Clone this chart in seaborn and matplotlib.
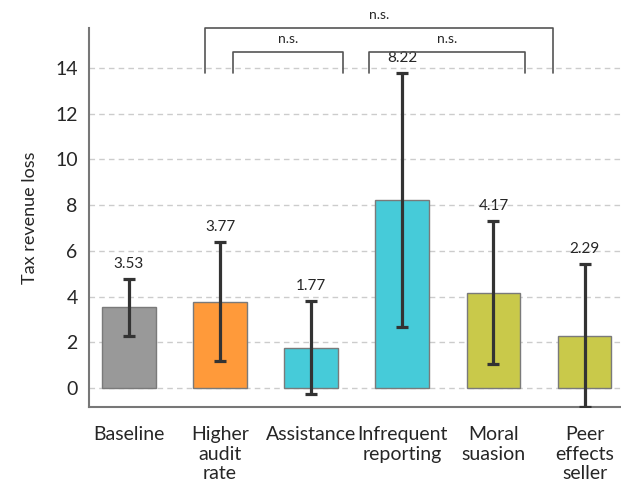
import numpy as np
import pandas as pd
import seaborn as sns
from matplotlib import pyplot as plt

categories = ["Baseline", "Higher\naudit\nrate", "Assistance", "Infrequent\nreporting",
              "Moral\nsuasion", "Peer\neffects\nseller"]
values = [3.53, 3.77, 1.77, 8.22, 4.17, 2.29]
errors = [1.25, 2.60, 2.02, 5.54, 3.12, 3.12]
colors = ["#999999", "#FF9A3A", "#46CBD9", "#46CBD9", "#C9C94A", "#C9C94A"]

# brackets: (left x, right x, top y, label)
brackets = [(0.84, 4.65, 15.74, "n.s."), (1.14, 2.35, 14.71, "n.s."), (2.64, 4.35, 14.71, "n.s.")]

sns.set_style("white")
plt.rcParams["font.family"] = ["Lato", "DejaVu Sans"]

df = pd.DataFrame({"cat": categories, "val": values})

fig = plt.figure(figsize=(6.21, 4.88), dpi=100)
ax = fig.add_axes([0.143, 0.166, 0.857, 0.777])

sns.barplot(data=df, x="cat", y="val", hue="cat", palette=colors, legend=False,
            saturation=1, width=0.59, edgecolor="#7a7a7a", linewidth=1, ax=ax, zorder=2)
ax.errorbar(np.arange(len(values)), values, yerr=errors, fmt="none",
            ecolor="#333333", elinewidth=2.3, capsize=4.5, capthick=2.3, zorder=3)

for i, (v, e) in enumerate(zip(values, errors)):
    ax.text(i, v + e + 0.35, f"{v:.2f}", ha="center", va="bottom", fontsize=11)

leg_bottom = 13.77
for x0, x1, top, lab in brackets:
    ax.plot([x0, x0, x1, x1], [leg_bottom, top, top, leg_bottom], color="#555555",
            lw=1.2, clip_on=False, zorder=4)
    ax.text((x0 + x1) / 2, top + 0.3, lab, ha="center", va="bottom", fontsize=10)

ax.set_ylim(-0.83, 15.75)
ax.set_xlim(-0.44, 5.4)
ax.set_yticks(range(0, 15, 2))
ax.yaxis.grid(True, linestyle=(0, (4, 3)), color="#cccccc", lw=1)
ax.set_axisbelow(True)
ax.tick_params(axis="both", length=0, labelsize=14, pad=8)
ax.tick_params(axis="x", pad=14)
for lab in ax.get_xticklabels():
    lab.set_linespacing(1.15)
ax.set_xlabel("")
ax.set_ylabel("Tax revenue loss", fontsize=13, labelpad=12)
for s in ["top", "right"]:
    ax.spines[s].set_visible(False)
for s in ["left", "bottom"]:
    ax.spines[s].set_color("#777777")
    ax.spines[s].set_linewidth(1.5)

fig.savefig("out.png", dpi=100)
